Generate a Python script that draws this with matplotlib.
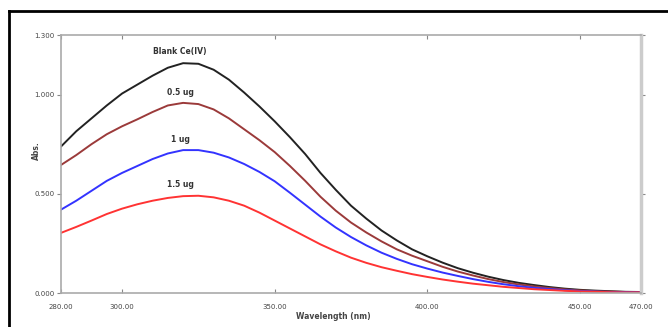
import matplotlib
matplotlib.use("Agg")
import matplotlib.pyplot as plt
from matplotlib.lines import Line2D

wavelength = [280, 285, 290, 295, 300, 305, 310, 315, 320, 325, 330, 335, 340, 345,
              350, 355, 360, 365, 370, 375, 380, 385, 390, 395, 400, 405, 410, 415,
              420, 425, 430, 435, 440, 445, 450, 455, 460, 465, 470]
blank_ce = [0.738, 0.815, 0.88, 0.945, 1.005, 1.05, 1.095, 1.135, 1.158, 1.155, 1.125, 1.075, 1.01, 0.94,
            0.865, 0.785, 0.70, 0.605, 0.52, 0.44, 0.375, 0.315, 0.265, 0.22, 0.185, 0.153, 0.125, 0.102,
            0.082, 0.065, 0.051, 0.04, 0.03, 0.022, 0.016, 0.012, 0.009, 0.006, 0.005]
ug_05 = [0.645, 0.695, 0.75, 0.80, 0.84, 0.875, 0.912, 0.945, 0.958, 0.952, 0.925, 0.88, 0.825, 0.77,
         0.71, 0.64, 0.565, 0.485, 0.415, 0.355, 0.305, 0.26, 0.22, 0.188, 0.16, 0.132, 0.108, 0.088,
         0.07, 0.055, 0.043, 0.033, 0.025, 0.018, 0.013, 0.009, 0.007, 0.005, 0.004]
ug_1 = [0.42, 0.465, 0.515, 0.565, 0.605, 0.64, 0.675, 0.703, 0.72, 0.72, 0.707, 0.683, 0.65, 0.61,
        0.563, 0.505, 0.445, 0.385, 0.33, 0.282, 0.24, 0.203, 0.172, 0.145, 0.123, 0.103, 0.086, 0.07,
        0.056, 0.044, 0.034, 0.026, 0.02, 0.014, 0.01, 0.007, 0.005, 0.004, 0.003]
ug_15 = [0.303, 0.333, 0.365, 0.398, 0.425, 0.447, 0.465, 0.479, 0.488, 0.49, 0.482, 0.465, 0.44, 0.405,
         0.365, 0.325, 0.285, 0.245, 0.21, 0.178, 0.152, 0.13, 0.112, 0.095, 0.081, 0.068, 0.057, 0.047,
         0.039, 0.031, 0.025, 0.019, 0.015, 0.011, 0.008, 0.006, 0.004, 0.003, 0.003]

series = [blank_ce, ug_05, ug_1, ug_15]
names = ["Blank Ce(IV)", "0.5 ug", "1 ug", "1.5 ug"]
colors = ["#222222", "#9b3a3a", "#3333ff", "#ff3333"]
label_y = [1.218, 1.01, 0.772, 0.548]
label_x = 319

x_ticks = [280, 300, 350, 400, 450, 470]
y_ticks = [0.0, 0.5, 1.0, 1.3]

fig = plt.figure(figsize=(6.68, 3.27), dpi=100)
ax = fig.add_axes([61/668, 34/327, 580/668, 258/327])

for ys, c in zip(series, colors):
    ax.plot(wavelength, ys, color=c, lw=1.4, solid_joinstyle="round", solid_capstyle="round")
for n, ly in zip(names, label_y):
    ax.text(label_x, ly, n, ha="center", va="center", fontsize=5.5,
            fontweight="bold", color="#333333")

ax.set_xlim(280, 470)
ax.set_ylim(0, 1.3)
ax.set_xticks(x_ticks)
ax.set_xticklabels([f"{v:.2f}" for v in x_ticks])
ax.set_yticks(y_ticks)
ax.set_yticklabels([f"{v:.3f}" for v in y_ticks])
ax.tick_params(axis="x", direction="in", length=3, width=0.8, color="#888888",
               labelsize=5, labelcolor="#444444", pad=8, top=True)
ax.tick_params(axis="y", direction="out", length=3, width=0.8, color="#888888",
               labelsize=5, labelcolor="#444444", pad=1.5, right=True)
for s in ax.spines.values():
    s.set_color("#aaaaaa")
    s.set_linewidth(1.2)
ax.spines["right"].set_color("#cccccc")
ax.spines["right"].set_linewidth(2.5)

ax.set_xlabel("Wavelength (nm)", fontsize=5.5, fontweight="bold", color="#444444")
ax.xaxis.set_label_coords(0.47, -0.075)
ax.set_ylabel("Abs.", fontsize=5.5, fontweight="bold", color="#444444")
ax.yaxis.set_label_coords(-0.035, 0.55)

# outer frame (top and left edges)
fig.add_artist(Line2D([8.5/668, 1.0], [1 - 10.5/327, 1 - 10.5/327],
                      transform=fig.transFigure, color="black", lw=2))
fig.add_artist(Line2D([8.5/668, 8.5/668], [0.0, 1 - 10.5/327],
                      transform=fig.transFigure, color="black", lw=2))

fig.savefig("out.png", dpi=100)
